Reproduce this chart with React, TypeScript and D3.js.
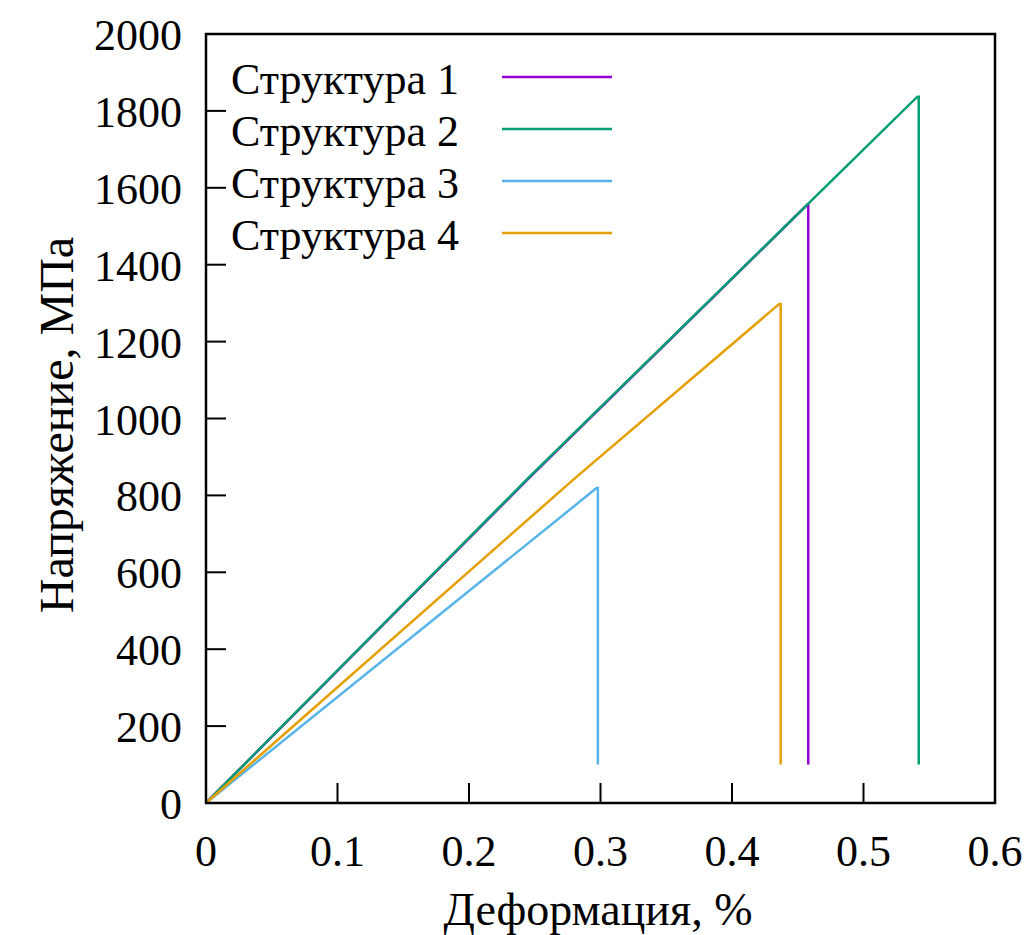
import React from "react";
import * as d3 from "d3";

const seriesNames = ["Структура 1", "Структура 2", "Структура 3", "Структура 4"];
const seriesColors = ["#9400d3", "#009e73", "#56b4e9", "#e69f00"];

const s1x = [0, 0.245, 0.457, 0.458, 0.458];
const s1y = [0, 843, 1555, 1555, 100];
const s2x = [0, 0.245, 0.541, 0.542, 0.542];
const s2y = [0, 845, 1837, 1837, 100];
const s3x = [0, 0.297, 0.298, 0.298];
const s3y = [0, 819, 819, 100];
const s4x = [0, 0.28, 0.436, 0.437, 0.437];
const s4y = [0, 843, 1298, 1298, 100];

const seriesX = [s1x, s2x, s3x, s4x];
const seriesY = [s1y, s2y, s3y, s4y];

const xTicks = [0, 0.1, 0.2, 0.3, 0.4, 0.5, 0.6];
const yTicks = [0, 200, 400, 600, 800, 1000, 1200, 1400, 1600, 1800, 2000];

const xLabel = "Деформация, %";
const yLabel = "Напряжение, МПа";

export default function App() {
  const W = 1033, H = 935;
  const left = 206, right = 995, top = 34, bottom = 803;
  const x = d3.scaleLinear().domain([0, 0.6]).range([left, right]);
  const y = d3.scaleLinear().domain([0, 2000]).range([bottom, top]);
  const font = "'Liberation Serif', 'Times New Roman', serif";
  const line = d3.line<[number, number]>().x(d => x(d[0])).y(d => y(d[1]));
  const tickLen = 20;

  return (
    <svg width={W} height={H} style={{ position: "absolute", left: 0, top: 0, background: "#fff" }}
      fontFamily={font}>
      <rect x={0} y={0} width={W} height={H} fill="#fff" />
      {seriesX.map((xs, i) => (
        <path key={i} d={line(xs.map((v, j) => [v, seriesY[i][j]]) as [number, number][]) || ""}
          fill="none" stroke={seriesColors[i]} strokeWidth={2.5} strokeLinejoin="miter" />
      ))}
      {xTicks.slice(1, -1).map(t => (
        <line key={"xt" + t} x1={x(t)} x2={x(t)} y1={bottom} y2={bottom - tickLen} stroke="#000" strokeWidth={2} />
      ))}
      {yTicks.slice(1, -1).map(t => (
        <line key={"yt" + t} x1={left} x2={left + tickLen} y1={y(t)} y2={y(t)} stroke="#000" strokeWidth={2} />
      ))}
      <rect x={left} y={top} width={right - left} height={bottom - top} fill="none" stroke="#000" strokeWidth={2.5} />
      {xTicks.map(t => (
        <text key={"xl" + t} x={x(t)} y={866} textAnchor="middle" fontSize={44} fill="#000">{String(t)}</text>
      ))}
      {yTicks.map(t => (
        <text key={"yl" + t} x={182} y={y(t) + 16} textAnchor="end" fontSize={44} fill="#000">{String(t)}</text>
      ))}
      <text x={598} y={925} textAnchor="middle" fontSize={46} fill="#000">{xLabel}</text>
      <text transform={`translate(73,425) rotate(-90)`} textAnchor="middle" fontSize={48} fill="#000">{yLabel}</text>
      {seriesNames.map((n, i) => {
        const ly = 77 + i * 52;
        return (
          <g key={"lg" + i}>
            <text x={231} y={ly + 17} fontSize={44} fill="#000">{n}</text>
            <line x1={502} x2={612} y1={ly} y2={ly} stroke={seriesColors[i]} strokeWidth={2.5} />
          </g>
        );
      })}
    </svg>
  );
}
